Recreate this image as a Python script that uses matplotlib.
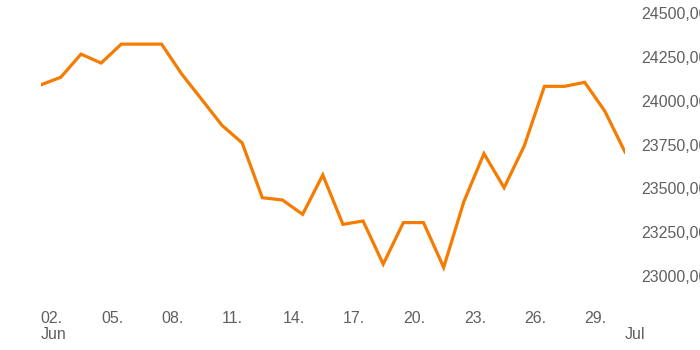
import matplotlib
matplotlib.use("Agg")
import matplotlib.pyplot as plt
import matplotlib.dates as mdates
import numpy as np
import datetime as dt

# Data
start_date = "2023-06-02"
prices = [24091, 24135, 24267, 24216, 24324, 24324, 24324, 24153, 24007, 23860,
          23760, 23447, 23434, 23352, 23577, 23295, 23314, 23068, 23305, 23305,
          23049, 23424, 23699, 23504, 23743, 24083, 24083, 24106, 23941, 23708]
ytick_values = [23000, 23250, 23500, 23750, 24000, 24250, 24500]
ytick_labels = ["23000,00", "23250,00", "23500,00", "23750,00", "24000,00", "24250,00", "24500,00"]
xtick_dates = ["2023-06-02", "2023-06-05", "2023-06-08", "2023-06-11", "2023-06-14",
               "2023-06-17", "2023-06-20", "2023-06-23", "2023-06-26", "2023-06-29", "2023-07-01"]
xtick_labels = ["02.\nJun", "05.", "08.", "11.", "14.", "17.", "20.", "23.", "26.", "29.", "\nJul"]

d0 = dt.date.fromisoformat(start_date)
dates = [d0 + dt.timedelta(days=i) for i in range(len(prices))]
xt = [dt.date.fromisoformat(s) for s in xtick_dates]

plt.rcParams['font.family'] = ['Liberation Sans', 'DejaVu Sans']

W, H = 700, 350
fig = plt.figure(figsize=(7, 3.5), dpi=100)
left_px, right_px, top_px, bot_px = 40.7, 625, 0, 300
ax = fig.add_axes([left_px / W, 1 - bot_px / H, (right_px - left_px) / W, (bot_px - top_px) / H])

ax.plot(dates, prices, color='#F57C00', lw=2.3, solid_joinstyle='miter', clip_on=True)

ax.set_xlim(dates[0], dates[-1])
ax.set_ylim(22863, 24576)

for s in ax.spines.values():
    s.set_visible(False)

ax.yaxis.tick_right()
ax.set_yticks(ytick_values)
ax.set_yticklabels(ytick_labels)
ax.tick_params(axis='y', length=0, pad=12, labelsize=11.5, labelcolor='#606060')

ax.set_xticks(xt)
ax.set_xticklabels(xtick_labels, ha='left', linespacing=1.1)
ax.tick_params(axis='x', length=0, pad=8, labelsize=11.5, labelcolor='#606060')
for lbl in ax.get_xticklabels():
    lbl.set_x(lbl.get_position()[0])

fig.savefig("out.png", dpi=100)
